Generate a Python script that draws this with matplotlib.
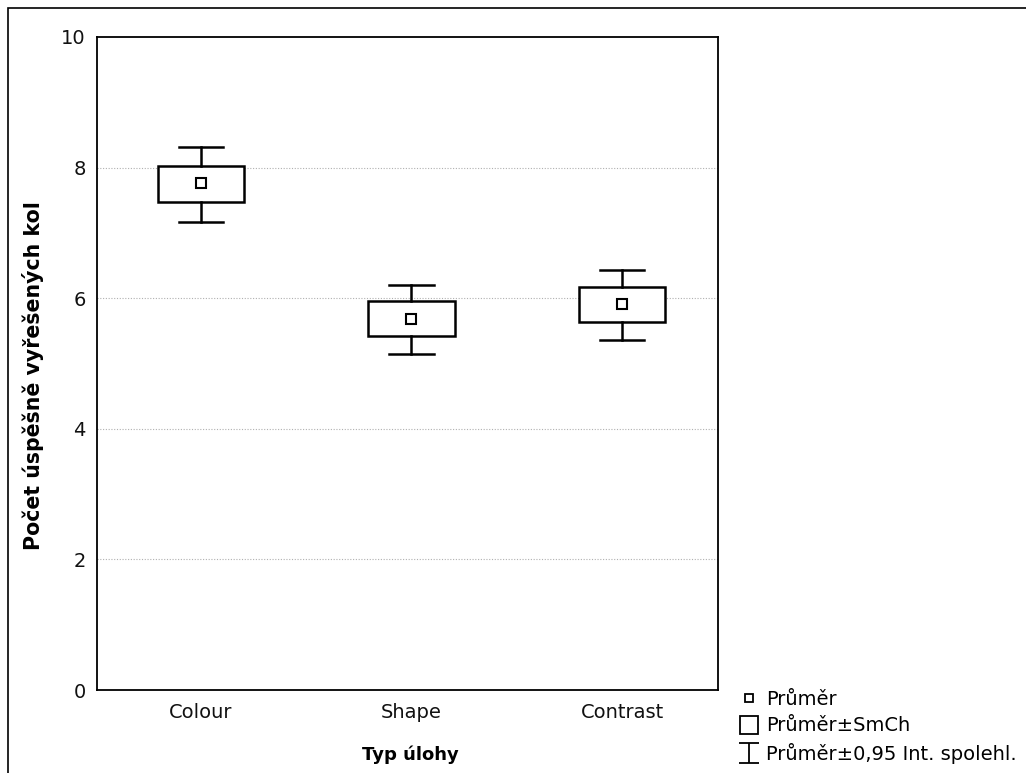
import matplotlib
matplotlib.use("Agg")
import matplotlib.pyplot as plt
from matplotlib.patches import Rectangle
from matplotlib.lines import Line2D
from matplotlib.path import Path

categories = ["Colour", "Shape", "Contrast"]
means = [7.76, 5.68, 5.91]
se_low = [7.47, 5.42, 5.64]
se_high = [8.03, 5.95, 6.17]
ci_low = [7.16, 5.14, 5.36]
ci_high = [8.31, 6.20, 6.43]
yticks = [0, 2, 4, 6, 8, 10]

plt.rcParams['font.family'] = ['DejaVu Sans']

W, H = 1026, 773
fig = plt.figure(figsize=(W / 100, H / 100), dpi=100)
ax = fig.add_axes([97 / W, 1 - 690 / H, (718 - 97) / W, (690 - 37) / H])

box_w = 0.41
cap_w = 0.21
lw = 1.8
for i, c in enumerate(categories):
    x = i + 1
    ax.add_patch(Rectangle((x - box_w / 2, se_low[i]), box_w, se_high[i] - se_low[i],
                           facecolor='white', edgecolor='black', lw=lw, zorder=3))
    ax.plot([x, x], [se_high[i], ci_high[i]], color='black', lw=lw, zorder=3)
    ax.plot([x, x], [ci_low[i], se_low[i]], color='black', lw=lw, zorder=3)
    ax.plot([x - cap_w / 2, x + cap_w / 2], [ci_high[i]] * 2, color='black', lw=lw, zorder=3)
    ax.plot([x - cap_w / 2, x + cap_w / 2], [ci_low[i]] * 2, color='black', lw=lw, zorder=3)

ax.plot(range(1, len(categories) + 1), means, linestyle='none', marker='s', markersize=6.5,
        markerfacecolor='white', markeredgecolor='black', markeredgewidth=1.5, zorder=4)

ax.set_xlim(0.506, 3.456)
ax.set_ylim(0, 10)
ax.set_yticks(yticks)
ax.set_yticklabels([str(v) for v in yticks])
ax.set_xticks([1, 2, 3])
ax.set_xticklabels(categories)
ax.tick_params(axis='both', labelsize=14, length=0, colors='#111111')
ax.tick_params(axis='y', pad=8)
ax.tick_params(axis='x', pad=9)
for v in yticks[1:-1]:
    ax.axhline(v, color='#b0b0b0', lw=0.8, linestyle=(0, (1, 1.5)), zorder=1)
for s in ax.spines.values():
    s.set_linewidth(1.3)

ax.set_ylabel("Počet úspěšně vyřešených kol", fontsize=14.8, fontweight='bold')
ax.yaxis.set_label_coords((44 - 97) / 621, (690 - 376) / 653)
ax.set_xlabel("Typ úlohy", fontsize=13, fontweight='bold')
ax.xaxis.set_label_coords((410 - 97) / 621, (690 - 745) / 653)

# outer frame
fig.add_artist(Rectangle((8 / W, -0.1), 1.2, 1 - 8 / H + 0.1, transform=fig.transFigure,
                         fill=False, edgecolor='black', lw=1.2))

ibeam = Path([(-0.95, -1), (0.95, -1), (0, -1), (0, 1), (-0.95, 1), (0.95, 1)],
             [Path.MOVETO, Path.LINETO, Path.MOVETO, Path.LINETO, Path.MOVETO, Path.LINETO])
handles = [
    Line2D([], [], linestyle='none', marker='s', markersize=5.5, markerfacecolor='white',
           markeredgecolor='black', markeredgewidth=1.3),
    Line2D([], [], linestyle='none', marker='s', markersize=13.5, markerfacecolor='white',
           markeredgecolor='black', markeredgewidth=1.3),
    Line2D([], [], linestyle='none', marker=ibeam, markersize=14.5, markeredgecolor='black',
           markeredgewidth=1.3),
]
labels = ["Průměr", "Průměr±SmCh", "Průměr±0,95 Int. spolehl."]
fig.legend(handles, labels, loc='upper left', bbox_to_anchor=(739 / W, 1 - 690 / H),
           frameon=False, fontsize=14, handlelength=1.0, handletextpad=0.39,
           labelspacing=0.38, borderaxespad=0, borderpad=0)

fig.savefig("out.png", dpi=100)
